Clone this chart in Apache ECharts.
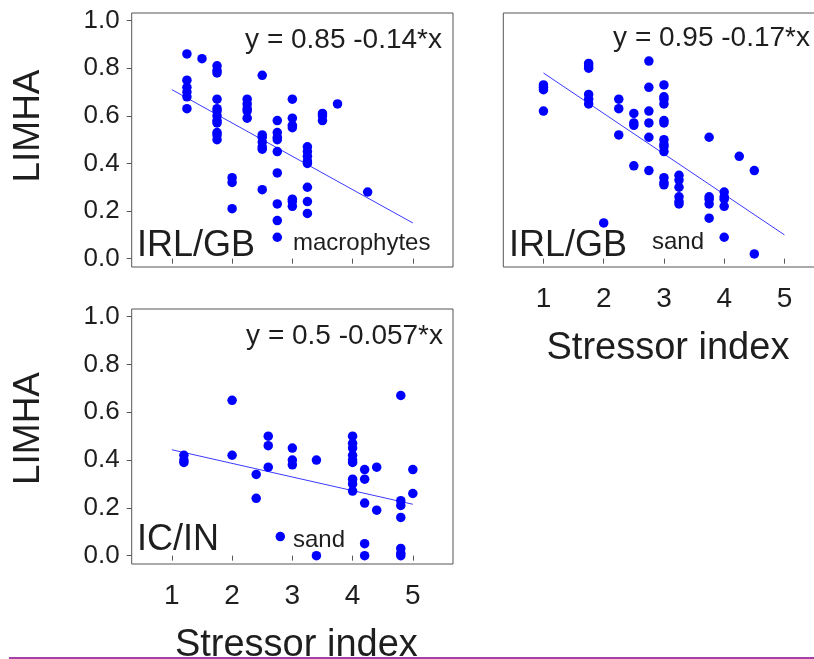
<!DOCTYPE html>
<html>
<head>
<meta charset="utf-8">
<script src="https://cdn.jsdelivr.net/npm/echarts@6/dist/echarts.min.js"></script>
<style>
  html, body { margin: 0; padding: 0; background: #fff; }
  #chart { width: 814px; height: 659px; }
</style>
</head>
<body>
<div id="chart"></div>
<script>
// Tick values shared by every panel
const xTicks = [1, 2, 3, 4, 5];
const yTicks = [0, 0.2, 0.4, 0.6, 0.8, 1.0];

// IRL/GB, macrophytes: stressor index vs LIMHA
const gbMacroX = [
  1.25, 1.25, 1.25, 1.25, 1.25, 1.25,
  1.5,
  1.75, 1.75, 1.75, 1.75, 1.75, 1.75, 1.75, 1.75, 1.75, 1.75, 1.75, 1.75,
  2.0, 2.0, 2.0,
  2.25, 2.25, 2.25, 2.25, 2.25,
  2.5, 2.5, 2.5, 2.5, 2.5, 2.5, 2.5,
  2.75, 2.75, 2.75, 2.75, 2.75, 2.75, 2.75, 2.75, 2.75,
  3.0, 3.0, 3.0, 3.0, 3.0, 3.0, 3.0,
  3.25, 3.25, 3.25, 3.25, 3.25, 3.25, 3.25, 3.25,
  3.5, 3.5, 3.5,
  3.75,
  4.25
];
const gbMacroY = [
  0.86, 0.75, 0.72, 0.70, 0.68, 0.63,
  0.84,
  0.81, 0.79, 0.78, 0.67, 0.63, 0.62, 0.60, 0.58, 0.57, 0.53, 0.52, 0.50,
  0.34, 0.32, 0.21,
  0.67, 0.65, 0.63, 0.62, 0.59,
  0.77, 0.52, 0.51, 0.49, 0.47, 0.46, 0.29,
  0.58, 0.53, 0.51, 0.50, 0.45, 0.36, 0.23, 0.16, 0.09,
  0.67, 0.59, 0.56, 0.55, 0.25, 0.24, 0.22,
  0.47, 0.45, 0.43, 0.41, 0.40, 0.30, 0.24, 0.19,
  0.61, 0.60, 0.58,
  0.65,
  0.28
];

// IRL/GB, sand
const gbSandX = [
  1.0, 1.0, 1.0, 1.0,
  1.75, 1.75, 1.75, 1.75, 1.75, 1.75,
  2.0,
  2.25, 2.25, 2.25,
  2.5, 2.5, 2.5, 2.5,
  2.75, 2.75, 2.75, 2.75, 2.75, 2.75,
  3.0, 3.0, 3.0, 3.0, 3.0, 3.0, 3.0, 3.0, 3.0, 3.0, 3.0, 3.0, 3.0,
  3.25, 3.25, 3.25, 3.25, 3.25, 3.25,
  3.75, 3.75, 3.75, 3.75, 3.75,
  4.0, 4.0, 4.0, 4.0, 4.0,
  4.25,
  4.5, 4.5
];
const gbSandY = [
  0.73, 0.72, 0.71, 0.62,
  0.82, 0.81, 0.80, 0.69, 0.67, 0.65,
  0.15,
  0.67, 0.63, 0.52,
  0.61, 0.57, 0.56, 0.39,
  0.83, 0.72, 0.62, 0.57, 0.51, 0.37,
  0.73, 0.68, 0.67, 0.65, 0.58, 0.57, 0.50, 0.48, 0.47, 0.45, 0.34, 0.32, 0.31,
  0.35, 0.33, 0.30, 0.26, 0.24, 0.23,
  0.51, 0.26, 0.25, 0.23, 0.17,
  0.28, 0.26, 0.25, 0.22, 0.09,
  0.43,
  0.37, 0.02
];

// IC/IN, sand
const inSandX = [
  1.2, 1.2, 1.2,
  2.0, 2.0,
  2.4, 2.4,
  2.6, 2.6, 2.6,
  2.8,
  3.0, 3.0, 3.0,
  3.4, 3.4,
  4.0, 4.0, 4.0, 4.0, 4.0, 4.0, 4.0, 4.0, 4.0,
  4.2, 4.2, 4.2, 4.2, 4.2,
  4.4, 4.4,
  4.8, 4.8, 4.8, 4.8, 4.8, 4.8, 4.8,
  5.0, 5.0
];
const inSandY = [
  0.42, 0.40, 0.39,
  0.65, 0.42,
  0.34, 0.24,
  0.50, 0.46, 0.37,
  0.08,
  0.45, 0.40, 0.38,
  0.40, 0.00,
  0.50, 0.47, 0.45, 0.42, 0.40, 0.39, 0.32, 0.30, 0.27,
  0.36, 0.32, 0.22, 0.05, 0.00,
  0.37, 0.19,
  0.67, 0.23, 0.21, 0.16, 0.03, 0.01, 0.00,
  0.36, 0.26
];

// Fitted lines: intercept, slope, x extent
const gbMacroFit = [0.85, -0.14];
const gbSandFit = [0.95, -0.17];
const inSandFit = [0.5, -0.057];
const fitRange = [1, 5];

const FONT = "'Liberation Sans', Arial, sans-serif";
const INK = '#1e1e1e';
const FRAME = '#555';
const DOT = '#0000ff';
const FIT_COLOR = '#3a3aff';

const zip = (xs, ys) => xs.map((x, i) => [x, ys[i]]);
const fitLine = (c) => fitRange.map(x => [x, c[0] + c[1] * x]);
const eqText = (c) => 'y = ' + c[0] + ' ' + c[1] + '*x';

// Fixed panel frames; the right-hand frame runs past the canvas edge
const grids = [
  { left: 131.7, top: 13, width: 321.3, height: 254 },
  { left: 503.3, top: 13, width: 321.3, height: 254 },
  { left: 131.7, top: 309, width: 321.3, height: 255 }
].map(g => Object.assign(g, {
  show: true, borderColor: FRAME, borderWidth: 1,
  containLabel: false, outerBoundsMode: 'none'
}));

function xAxis(gridIndex, withLabels, namePad) {
  return {
    type: 'value', gridIndex, min: 1 / 3, max: 17 / 3,
    splitLine: { show: false },
    axisLine: { show: false },
    axisTick: { show: true, inside: false, length: 5, customValues: xTicks, lineStyle: { color: FRAME } },
    axisLabel: {
      show: withLabels, customValues: xTicks, margin: 18,
      fontFamily: FONT, fontSize: 28, color: INK
    },
    name: withLabels ? 'Stressor index' : '',
    nameLocation: 'middle', nameGap: 63,
    nameTextStyle: { fontFamily: FONT, fontSize: 38, color: INK, padding: [0, 0, 0, namePad || 0] }
  };
}

function yAxis(gridIndex, withLabels, namePad) {
  return {
    type: 'value', gridIndex, min: -0.035, max: 1.032,
    splitLine: { show: false },
    axisLine: { show: false },
    axisTick: { show: withLabels, inside: false, length: 5, customValues: yTicks, lineStyle: { color: FRAME } },
    axisLabel: {
      show: withLabels, customValues: yTicks, margin: 12,
      fontFamily: FONT, fontSize: 26, color: INK,
      formatter: v => v.toFixed(1)
    },
    name: withLabels ? 'LIMHA' : '',
    nameLocation: 'middle', nameGap: 84, nameRotate: 90,
    nameTextStyle: { fontFamily: FONT, fontSize: 37, color: INK, padding: [0, 0, 0, namePad] }
  };
}

function scatter(idx, xs, ys) {
  return {
    type: 'scatter', xAxisIndex: idx, yAxisIndex: idx,
    data: zip(xs, ys), symbolSize: 9.5,
    itemStyle: { color: DOT, opacity: 1 }, z: 3
  };
}

function fit(idx, c) {
  return {
    type: 'line', xAxisIndex: idx, yAxisIndex: idx,
    data: fitLine(c), symbol: 'none', silent: true,
    lineStyle: { color: FIT_COLOR, width: 1 }, z: 2
  };
}

function label(x, y, text, size, align) {
  return {
    type: 'text', x, y, silent: true,
    style: { text, fontFamily: FONT, fontSize: size, fill: INK, align: align || 'left', verticalAlign: 'middle' }
  };
}

const option = {
  animation: false,
  backgroundColor: '#fff',
  grid: grids,
  xAxis: [xAxis(0, false), xAxis(1, true, 8), xAxis(2, true, 8)],
  yAxis: [yAxis(0, true, 28), yAxis(1, false, 0), yAxis(2, true, 16)],
  series: [
    fit(0, gbMacroFit), scatter(0, gbMacroX, gbMacroY),
    fit(1, gbSandFit), scatter(1, gbSandX, gbSandY),
    fit(2, inSandFit), scatter(2, inSandX, inSandY)
  ],
  graphic: [
    label(442, 40, eqText(gbMacroFit), 28, 'right'),
    label(810, 38, eqText(gbSandFit), 28, 'right'),
    label(443, 336, eqText(inSandFit), 28, 'right'),
    label(137, 246, 'IRL/GB', 36),
    label(293, 243, 'macrophytes', 24),
    label(509, 246, 'IRL/GB', 36),
    label(652, 242, 'sand', 24),
    label(137, 540, 'IC/IN', 36),
    label(293, 540, 'sand', 24),
    { type: 'line', silent: true, shape: { x1: 9, y1: 658, x2: 814, y2: 658 }, style: { stroke: '#8b008b', lineWidth: 1.5 } }
  ]
};

const chart = echarts.init(document.getElementById('chart'), null, { renderer: 'canvas' });
chart.setOption(option);
</script>
</body>
</html>
